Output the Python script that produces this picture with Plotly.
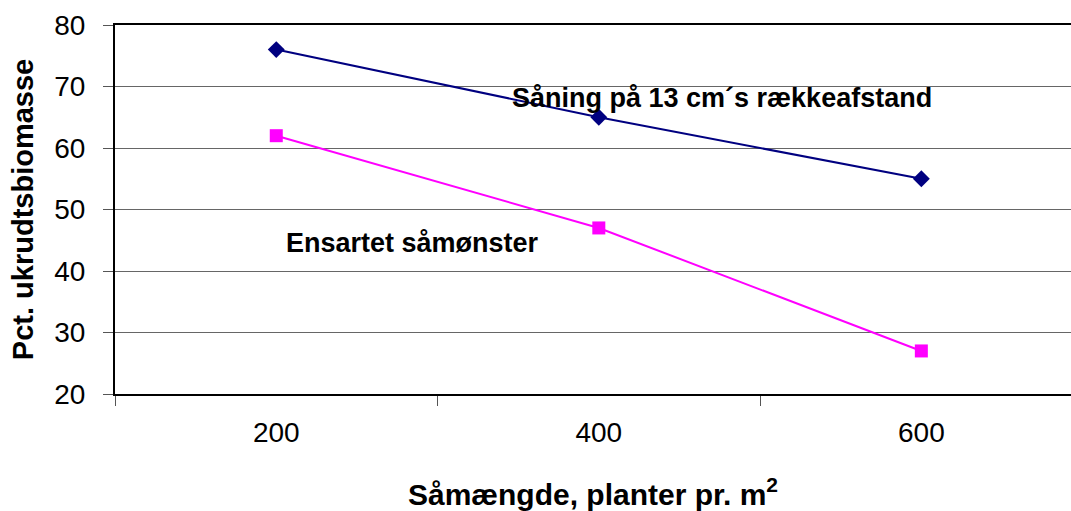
import plotly.graph_objects as go

categories = ["200", "400", "600"]
row_sowing = [76, 65, 55]
uniform_sowing = [62, 47, 27]
y_ticks = [20, 30, 40, 50, 60, 70, 80]

FONT = "Liberation Sans, Arial, sans-serif"

fig = go.Figure()
fig.add_trace(go.Scatter(
    x=categories, y=row_sowing, mode="lines+markers",
    line=dict(color="#000080", width=2),
    marker=dict(symbol="diamond", size=13, color="#000080"),
    name="Såning på 13 cm´s rækkeafstand", showlegend=False))
fig.add_trace(go.Scatter(
    x=categories, y=uniform_sowing, mode="lines+markers",
    line=dict(color="#FF00FF", width=2),
    marker=dict(symbol="square", size=13, color="#FF00FF"),
    name="Ensartet såmønster", showlegend=False))

fig.add_annotation(x=0.635, y=0.803, xref="paper", yref="paper",
                   xanchor="center", yanchor="middle",
                   text="<b>Såning på 13 cm´s rækkeafstand</b>", showarrow=False,
                   font=dict(family=FONT, size=27, color="black"))
fig.add_annotation(x=0.311, y=0.41, xref="paper", yref="paper",
                   xanchor="center", yanchor="middle",
                   text="<b>Ensartet såmønster</b>", showarrow=False,
                   font=dict(family=FONT, size=27, color="black"))

fig.update_layout(
    width=1071, height=511,
    margin=dict(l=115, r=0, t=25, b=117),
    paper_bgcolor="white", plot_bgcolor="white",
    font=dict(family=FONT, size=28, color="black"),
    xaxis=dict(
        type="category", range=[-0.5, 2.464],
        showgrid=False, zeroline=False,
        showline=True, linecolor="black", linewidth=2, mirror=True,
        ticks="outside", tickson="boundaries", ticklen=10, tickcolor="#555",
        tickfont=dict(size=28), ticklabelstandoff=12,
        title=dict(text="<b>Såmængde, planter pr. m<sup>2</sup></b>",
                   font=dict(size=30), standoff=38),
    ),
    yaxis=dict(
        range=[20, 80], tickvals=y_ticks,
        showgrid=True, gridcolor="#666", gridwidth=1,
        zeroline=False,
        showline=True, linecolor="black", linewidth=2,
        ticks="outside", ticklen=10, tickcolor="#555",
        tickfont=dict(size=28), ticklabelstandoff=12,
        title=dict(text="<b>Pct. ukrudtsbiomasse</b>", font=dict(size=29), standoff=12),
    ),
)

fig.write_html("out.html")
